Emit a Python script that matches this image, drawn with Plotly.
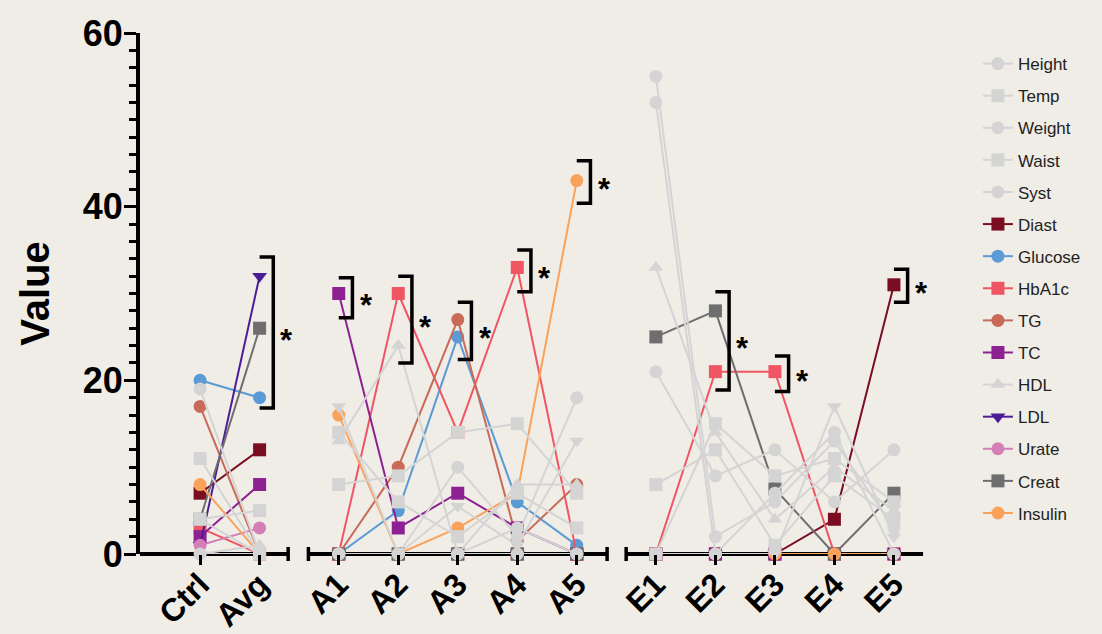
import plotly.graph_objects as go

# ---------------- data ----------------
group_ctrl = ["Ctrl", "Avg"]
group_a = ["A1", "A2", "A3", "A4", "A5"]
group_e = ["E1", "E2", "E3", "E4", "E5"]
groups = [group_ctrl, group_a, group_e]

series_names = ["Height", "Temp", "Weight", "Waist", "Syst", "Diast", "Glucose",
                "HbA1c", "TG", "TC", "HDL", "LDL", "Urate", "Creat", "Insulin"]

#            Ctrl Avg   A1  A2  A3   A4  A5   E1  E2  E3   E4  E5
height   = [19,  0,    0,  0,  10,  2,  18,  55,  2,  6,   13, 3]
temp     = [11,  0,    14, 6,  2,   7,  3,   0,   15, 9,   11, 6]
weight   = [0,   0,    0,  0,  0,   3,  0,   52,  0,  7,   14, 0]
waist    = [4,   5,    8,  9,  14,  15, 7,   8,   12, 1,   9,  4]
syst     = [4,   0,    0,  0,  0,   0,  0,   21,  9,  12,  6,  12]
diast    = [7,   12,   0,  0,  0,   0,  0,   0,   0,  0,   4,  31]
glucose  = [20,  18,   0,  5,  25,  6,  1,   0,   0,  0,   0,  0]
hba1c    = [3,   0,    0,  30, 14,  33, 0,   0,   21, 21,  0,  0]
tg       = [17,  0,    0,  10, 27,  1.5, 8,  0,   0,  0,   0,  0]
tc       = [2,   8,    30, 3,  7,   3,  0,   0,   0,  0,   0,  0]
hdl      = [0,   1,    13, 24, 0,   8,  8,   33,  14, 4,   10, 5]
ldl      = [1,   32,   0,  0,  0,   0,  0,   0,   0,  0,   0,  0]
urate    = [1,   3,    0,  0,  0,   0,  0,   0,   0,  0,   0,  0]
creat    = [4,   26,   0,  0,  0,   0,  0,   25,  28, 7.5, 0,  7]
insulin  = [8,   0,    16, 0,  3,   7,  43,  0,   0,  0,   0,  0]
other    = [0,   0,    17, 0,  5.5, 1,  13,  0,   0,  0,   17, 2]

series_values = [height, temp, weight, waist, syst, diast, glucose,
                 hba1c, tg, tc, hdl, ldl, urate, creat, insulin]

# significance brackets
bracket_cat = ["Avg", "A1", "A2", "A3", "A4", "A5", "E2", "E3", "E5"]
bracket_top = [34.2, 31.8, 32.0, 29.0, 35.0, 45.3, 30.2, 22.8, 32.8]
bracket_bot = [16.8, 27.2, 22.0, 22.4, 30.2, 40.4, 18.9, 18.7, 29.0]

# ---------------- styling ----------------
GRAY = "#d4d4d4"
colors = [GRAY, GRAY, GRAY, GRAY, GRAY, "#7b0d22", "#5b9bd5", "#ef5562",
          "#c96a58", "#8e2191", GRAY, "#4c1c97", "#d47fb6", "#6e6e6e", "#f8a25c"]
symbols = ["circle", "square", "circle", "square", "circle", "square", "circle",
           "square", "circle", "square", "triangle-up", "triangle-down",
           "circle", "square", "circle"]
BG = "#f0ede7"
FONT = "Liberation Sans"

# category positions (with a gap between groups)
GAP = 0.33
positions = {}
pos = 0.0
for gi, g in enumerate(groups):
    if gi > 0:
        pos += GAP
    for c in g:
        positions[c] = pos
        pos += 1
categories = [c for g in groups for c in g]
xpos = [positions[c] for c in categories]


def split_groups(vals):
    xs, ys = [], []
    i = 0
    for gi, g in enumerate(groups):
        if gi > 0:
            xs.append(None)
            ys.append(None)
        for c in g:
            xs.append(positions[c])
            ys.append(vals[i])
            i += 1
    return xs, ys


def make_trace(name, vals, col, sym, rank, showlegend=True):
    xs, ys = split_groups(vals)
    return go.Scatter(
        x=xs, y=ys, name=name, mode="lines+markers", legendgroup=name,
        legendrank=rank, showlegend=showlegend,
        line=dict(color=col, width=2), connectgaps=False,
        marker=dict(color=col, symbol=sym, size=13, line=dict(width=0)),
        cliponaxis=False,
    )


fig = go.Figure()
# coloured series first, light-gray series on top of them (legend order kept by rank)
colored_idx = [i for i, c in enumerate(colors) if c != GRAY]
gray_idx = [i for i, c in enumerate(colors) if c == GRAY]
for i in colored_idx:
    fig.add_trace(make_trace(series_names[i], series_values[i], colors[i], symbols[i], i + 1))
fig.add_trace(make_trace("Other", other, GRAY, "triangle-down", 999, showlegend=False))
for i in gray_idx:
    fig.add_trace(make_trace(series_names[i], series_values[i], colors[i], symbols[i], i + 1))

XMIN, XMAX = -1.01, 12.3
shapes = []
# broken x axis segments
segs = [(XMIN, positions["Avg"] + 0.48, False, True),
        (positions["A1"] - 0.51, positions["A5"] + 0.51, True, True),
        (positions["E1"] - 0.5, positions["E5"] + 0.49, True, False)]
CAP = 0.0135
for x0, x1, lcap, rcap in segs:
    shapes.append(dict(type="line", xref="x", yref="paper", x0=x0, x1=x1, y0=0, y1=0,
                       line=dict(color="black", width=4), layer="below"))
    if lcap:
        shapes.append(dict(type="line", xref="x", yref="paper", x0=x0, x1=x0, y0=-CAP, y1=CAP,
                           line=dict(color="black", width=3.5), layer="below"))
    if rcap:
        shapes.append(dict(type="line", xref="x", yref="paper", x0=x1, x1=x1, y0=-CAP, y1=CAP,
                           line=dict(color="black", width=3.5), layer="below"))

annotations = []
for c, top, bot in zip(bracket_cat, bracket_top, bracket_bot):
    p = positions[c]
    bx = p + 0.23
    shapes.append(dict(type="path", xref="x", yref="y",
                       path=f"M {p},{top} L {bx},{top} L {bx},{bot} L {p},{bot}",
                       line=dict(color="black", width=3.5), layer="above"))
    annotations.append(dict(x=p + 0.46, y=(top + bot) / 2, xref="x", yref="y",
                            text="*", showarrow=False, xanchor="center", yanchor="middle",
                            yshift=-8, font=dict(family=FONT, size=31, color="black", weight="bold")))

fig.update_layout(
    width=1102, height=634,
    margin=dict(l=140, r=1102 - 932, t=33, b=80),
    paper_bgcolor=BG, plot_bgcolor=BG,
    font=dict(family=FONT, color="black"),
    showlegend=True,
    legend=dict(x=1.058, y=0.975, xanchor="left", yanchor="top",
                font=dict(family=FONT, size=17, color="#222222"),
                bgcolor="rgba(0,0,0,0)", tracegroupgap=7, itemclick=False),
    shapes=shapes,
    annotations=annotations,
    xaxis=dict(range=[XMIN, XMAX], tickmode="array", tickvals=xpos, ticktext=categories,
               tickangle=-45, ticks="outside", ticklen=10, tickwidth=3, tickcolor="black",
               showline=False, showgrid=False, zeroline=False, automargin=False,
               ticklabelstandoff=-12,
               tickfont=dict(family=FONT, size=32, color="black", weight="bold")),
    yaxis=dict(range=[0, 60], tickmode="array", tickvals=[0, 20, 40, 60],
               ticks="outside", ticklen=12, tickwidth=3, tickcolor="black",
               showline=True, linewidth=4, linecolor="black",
               showgrid=False, zeroline=False, automargin=False,
               ticklabelstandoff=-6,
               minor=dict(dtick=2, tick0=0, ticks="outside", ticklen=7, tickwidth=3, tickcolor="black"),
               tickfont=dict(family=FONT, size=36, color="black", weight="bold"),
               title=dict(text="Value", standoff=22,
                          font=dict(family=FONT, size=40, color="black", weight="bold"))),
)

fig.write_html("out.html", include_plotlyjs=True, config={"displayModeBar": False},
               post_script="document.body.style.margin='0';document.body.style.background='" + BG + "';")
